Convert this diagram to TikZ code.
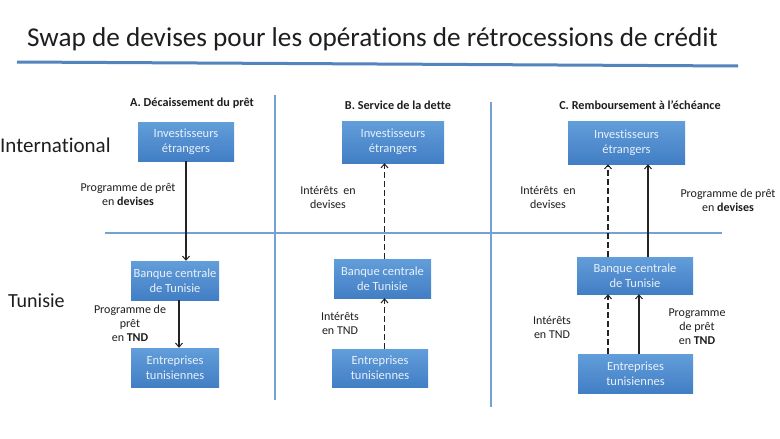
\documentclass[tikz,border=0pt]{standalone}
\usepackage{fontspec}
\setmainfont{Carlito}[Ligatures=NoCommon]
\usetikzlibrary{arrows.meta}
\definecolor{boxtop}{RGB}{98,158,218}
\definecolor{boxbot}{RGB}{66,126,196}
\definecolor{boxtxt}{RGB}{232,240,250}
\definecolor{rule}{RGB}{84,132,190}
\definecolor{divider}{RGB}{115,162,210}
\definecolor{arrowc}{RGB}{35,35,35}
\definecolor{txt}{RGB}{30,30,30}
\tikzset{
  bx/.style={draw=none, top color=boxtop, bottom color=boxbot, text=boxtxt,
    font=\fontsize{12.5}{15}\selectfont, align=center, inner sep=0pt},
  lbl/.style={text=txt, font=\fontsize{12}{14}\selectfont, align=center, inner sep=0pt},
  hdr/.style={text=txt, font=\fontsize{12.2}{14}\selectfont\bfseries, inner sep=0pt},
  arr/.style={draw=arrowc, line width=1.1pt, -{Straight Barb[length=4pt,width=7pt,line width=1pt]}},
  darr/.style={arr, dash pattern=on 5.5pt off 3.5pt},
  divl/.style={draw=divider, line width=1.3pt}
}
\begin{document}
\begin{tikzpicture}[x=1pt,y=-1pt]
\useasboundingbox (0,0) rectangle (780,439);
\fill[white] (0,0) rectangle (780,439);
% title
\node[anchor=base west, inner sep=0pt, text=txt, font=\fontsize{27.2}{30}\selectfont] (title) at (27,46)
  {Swap de devises pour les opérations de rétrocessions de crédit};
\draw[draw=rule, line width=3pt] (17,62) -- (738,66);
% dividers
\draw[divl] (275,95) -- (275,400);
\draw[divl] (491,102) -- (491,407);
\draw[divl] (105,233) -- (722,233);
% row labels
\node[anchor=base west, inner sep=0pt, text=txt, font=\fontsize{21}{24}\selectfont] (intl) at (0,152) {International};
\node[anchor=base west, inner sep=0pt, text=txt, font=\fontsize{20}{24}\selectfont] (tun) at (8,307) {Tunisie};
% headers
\node[hdr] (hA) at (192,103) {A. Décaissement du prêt};
\node[hdr] (hB) at (398,105) {B. Service de la dette};
\node[hdr] (hC) at (640,105) {C. Remboursement à l’échéance};
% column A boxes
\node[bx, minimum width=96pt, minimum height=39pt] (iA) at (186,141.5) {Investisseurs\\étrangers};
\node[bx, minimum width=88pt, minimum height=39pt] (bA) at (175,280.5) {Banque centrale\\de Tunisie};
\node[bx, minimum width=88pt, minimum height=39pt] (eA) at (175,367.5) {Entreprises\\tunisiennes};
% column B boxes
\node[bx, minimum width=102pt, minimum height=42pt] (iB) at (393,142) {Investisseurs\\étrangers};
\node[bx, minimum width=97pt, minimum height=39pt] (bB) at (382.5,278.5) {Banque centrale\\de Tunisie};
\node[bx, minimum width=96pt, minimum height=38pt] (eB) at (380,368) {Entreprises\\tunisiennes};
% column C boxes
\node[bx, minimum width=117pt, minimum height=43pt] (iC) at (626.5,142.5) {Investisseurs\\étrangers};
\node[bx, minimum width=116pt, minimum height=37pt] (bC) at (635,275.5) {Banque centrale\\de Tunisie};
\node[bx, minimum width=115pt, minimum height=39pt] (eC) at (635.5,373.5) {Entreprises\\tunisiennes};
% x positions of connectors
\coordinate (xA1) at (186,0);
\coordinate (xA2) at (179,0);
\coordinate (xB) at (384.5,0);
\coordinate (xC1) at (608,0);
\coordinate (xC2) at (648,0);
\coordinate (xC3) at (639,0);
% connectors A
\draw[arr] (iA.south -| xA1) -- (bA.north -| xA1);
\draw[arr] (bA.south -| xA2) -- (eA.north -| xA2);
% connectors B
\draw[darr] (bB.north -| xB) -- (iB.south -| xB);
\draw[darr] (eB.north -| xB) -- (bB.south -| xB);
% connectors C
\draw[darr] (bC.north -| xC1) -- (iC.south -| xC1);
\draw[arr] (bC.north -| xC2) -- (iC.south -| xC2);
\draw[darr] (eC.north -| xC1) -- (bC.south -| xC1);
\draw[arr] (eC.north -| xC3) -- (bC.south -| xC3);
% labels
\node[lbl] (lA1) at (128,194) {Programme de prêt\\en \textbf{devises}};
\node[lbl] (lA2) at (130,323) {Programme de\\prêt\\en \textbf{TND}};
\node[lbl] (lB1) at (328,197) {Intérêts~ en\\devises};
\node[lbl] (lB2) at (340,323) {Intérêts\\en TND};
\node[lbl] (lC1) at (548,197) {Intérêts~ en\\devises};
\node[lbl] (lC2) at (728,200) {Programme de prêt\\en \textbf{devises}};
\node[lbl] (lC3) at (552,327) {Intérêts\\en TND};
\node[lbl] (lC4) at (697,327) {Programme\\de prêt\\en \textbf{TND}};
\end{tikzpicture}
\end{document}
